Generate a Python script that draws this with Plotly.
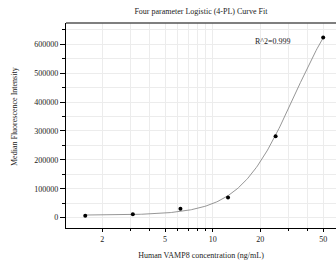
import numpy as np
import plotly.graph_objects as go

# Data
conc = [1.5625, 3.125, 6.25, 12.5, 25, 50]
mfi = [6000, 11800, 31000, 69600, 282000, 624000]
# 4PL fit parameters (bottom, top, inflection, slope)
fit_bottom = 8500
fit_top = 840000
fit_ec50 = 33.0
fit_slope = 2.5
r2_text = "R^2=0.999"
x_tick_vals = [2, 5, 10, 20, 50]
x_minor_vals = [3, 4, 6, 7, 8, 9, 30, 40]
y_tick_vals = [0, 100000, 200000, 300000, 400000, 500000, 600000]

xc = np.geomspace(min(conc), max(conc), 200)
yc = fit_bottom + (fit_top - fit_bottom) / (1 + (fit_ec50 / xc) ** fit_slope)

FONT = "Liberation Serif"
TXT = "#222222"
fig = go.Figure()
fig.add_trace(go.Scatter(x=xc, y=yc, mode="lines",
                         line=dict(color="#8a8a8a", width=0.9), hoverinfo="skip"))
fig.add_trace(go.Scatter(x=conc, y=mfi, mode="markers",
                         marker=dict(color="black", size=4)))

fig.update_layout(
    width=336, height=266,
    margin=dict(l=66, r=0, t=23, b=38),
    paper_bgcolor="white", plot_bgcolor="white",
    showlegend=False,
    font=dict(family=FONT, size=8, color=TXT),
    title=dict(text="Four parameter Logistic (4-PL) Curve Fit", x=0.598, xanchor="center",
               y=1 - 11 / 266, yanchor="middle", font=dict(size=8, color=TXT)),
)
fig.update_xaxes(
    type="log", range=[0.072, 1.780],
    tickvals=x_tick_vals, ticktext=[str(v) for v in x_tick_vals],
    ticks="outside", ticklen=3, tickwidth=1, tickcolor="black",
    showline=True, linecolor="black", linewidth=1.2,
    showgrid=True, gridcolor="#ececec", gridwidth=0.8,
    zeroline=False,
    minor=dict(tickvals=x_minor_vals, ticks="outside", ticklen=2, tickcolor="black",
               showgrid=True, gridcolor="#ececec", gridwidth=0.8),
    title=dict(text="Human VAMP8 concentration (ng/mL)", standoff=9, font=dict(size=8, color=TXT)),
    tickfont=dict(size=8, color=TXT),
)
fig.update_yaxes(
    range=[-36000, 674000],
    tickvals=y_tick_vals, ticktext=[str(v) for v in y_tick_vals],
    ticks="outside", ticklen=5, tickwidth=1, tickcolor="black",
    showline=True, linecolor="black", linewidth=1.2,
    showgrid=True, gridcolor="#ececec", gridwidth=0.8,
    zeroline=False,
    minor=dict(dtick=50000, tick0=0, ticks="outside", ticklen=3, tickcolor="black",
               showgrid=True, gridcolor="#ececec", gridwidth=0.8),
    tickfont=dict(size=8, color=TXT),
)
# top border
fig.add_shape(type="line", xref="paper", yref="paper", x0=0, x1=1, y0=1, y1=1,
              line=dict(color="#555555", width=1.5))
fig.add_annotation(text="Median Fluorescence Intensity", xref="paper", yref="paper",
                   x=-51 / 270, y=(228 - 117) / 205, xanchor="center", yanchor="middle",
                   textangle=-90, showarrow=False, font=dict(size=8, color=TXT))
fig.add_annotation(text=r2_text, x=np.log10(24.2), y=611000, xref="x", yref="y",
                   showarrow=False, font=dict(size=8, color=TXT))

fig.write_html("out.html", config={"displayModeBar": False},
               post_script="document.body.style.margin='0';")
